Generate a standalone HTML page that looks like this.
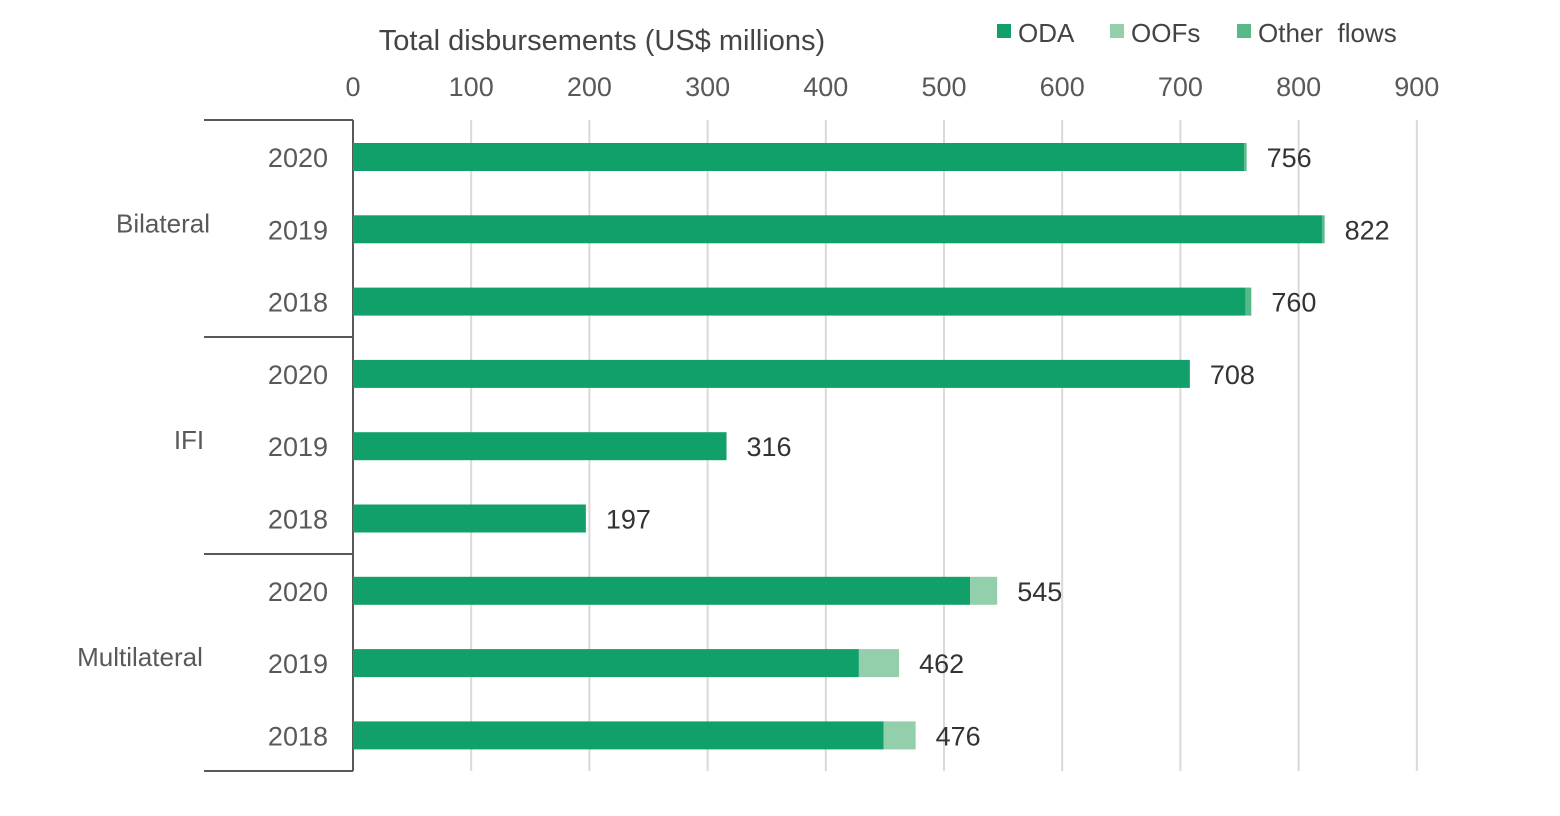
<!DOCTYPE html>
<html><head><meta charset="utf-8"><style>
body{margin:0;background:#fff;}
svg text{font-family:"Liberation Sans",Arial,sans-serif;}
</style></head><body>
<svg id="chart" width="1560" height="811" xmlns="http://www.w3.org/2000/svg">
<text x="602" y="50" font-size="29" fill="#444" text-anchor="middle">Total disbursements (US$ millions)</text>
<g>
<g><rect x="997" y="24" width="14" height="14" fill="#11a06a"/><text x="1018" y="42" font-size="26" fill="#444">ODA</text></g>
<g><rect x="1110" y="24" width="14" height="14" fill="#94cfab"/><text x="1131" y="42" font-size="26" fill="#444">OOFs</text></g>
<g><rect x="1237" y="24" width="14" height="14" fill="#57b888"/><text x="1258" y="42" font-size="26" fill="#444">Other&#160; flows</text></g>
</g>
<g id="grid"></g><g id="bars"></g><g id="labels"></g>
</svg>
<script>
const categories=["2020","2019","2018","2020","2019","2018","2020","2019","2018"];
const groups=["Bilateral","IFI","Multilateral"];
const odaValues=[754,820,755,708,316,197,522,428,449];
const oofValues=[0,0,0,0,0,0,23,34,27];
const otherValues=[2,2,5,0,0,0,0,0,0];
const totalLabels=["756","822","760","708","316","197","545","462","476"];
const ticks=[0,100,200,300,400,500,600,700,800,900];
const NS="http://www.w3.org/2000/svg";
const x0=353,xs=1.182;
const X=v=>x0+v*xs;
const Y=i=>157+i*72.3;
const bh=28;
function mk(t,a,p){const e=document.createElementNS(NS,t);for(const k in a)e.setAttribute(k,a[k]);p.appendChild(e);return e;}
const grid=document.getElementById('grid'),bars=document.getElementById('bars'),labels=document.getElementById('labels');
ticks.forEach(t=>{
 if(t>0){const l=mk('line',{x1:X(t),x2:X(t),y1:120,y2:771,stroke:'#d9d9d9','stroke-width':2},grid);
 
 }
 const tx=mk('text',{x:X(t),y:96,'font-size':27,fill:'#595959','text-anchor':'middle'},labels);tx.textContent=t;
 
 
});
const ax=mk('line',{x1:353,x2:353,y1:120,y2:771,stroke:'#595959','stroke-width':2},grid);


[120,337,554,771].forEach(y=>{const l=mk('line',{x1:204,x2:353,y1:y,y2:y,stroke:'#595959','stroke-width':2},grid);
 
 });
groups.forEach((g,i)=>{const t=mk('text',{x:i==2?140:(i==1?189:163),y:Y(i*3+1)+3,'font-size':26,fill:'#595959','text-anchor':'middle'},labels);t.textContent=g;
 
 });
categories.forEach((c,i)=>{
 const y=Y(i);
 const t=mk('text',{x:328,y:y+10,'font-size':27,fill:'#595959','text-anchor':'end'},labels);t.textContent=c;
 
 
 let s=0;
 [[odaValues,'#11a06a','oda'],[oofValues,'#94cfab','oof'],[otherValues,'#57b888','other']].forEach(([arr,col,n])=>{
  const v=arr[i];if(v<=0)return;
  const r=mk('rect',{x:X(s),y:y-bh/2,width:v*xs,height:bh,fill:col},bars);
  
  
  s+=v;
 });
 const lt=mk('text',{x:X(s)+20,y:y+10,'font-size':27,fill:'#333'},labels);lt.textContent=totalLabels[i];
 
 
});
</script>
</body></html>
